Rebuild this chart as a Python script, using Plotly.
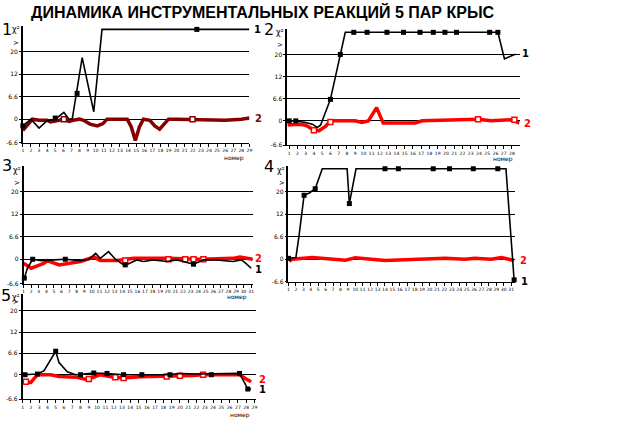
import plotly.graph_objects as go

W, H = 640, 441
TITLE = "ДИНАМИКА ИНСТРУМЕНТАЛЬНЫХ РЕАКЦИЙ 5 ПАР КРЫС"
X_TITLE = "номер"
Y_TICK_TEXT = ["-6.6", "0", "6.6", "12", "20"]

# ---------------- data (session, chi-square level in grid units) ----------------
p1_black_x = [1, 2.0, 3.0, 4.0, 5.0, 5.5, 6.07, 6.7, 7.1, 7.63, 8.33, 9.76, 10.17, 10.78, 29]
p1_black_y = [-0.3, 0.0, -0.4, -0.07, 0.0, 0.15, 0.3, 0.0, 0.0, 1.18, 2.74, 0.33, 1.77, 4.0, 4.0]
p1_red_x = [1, 1.6, 2.2, 3, 4, 4.4, 5, 5.5, 6.1, 6.7, 7.2, 8, 8.5, 9.3, 10.2, 10.9, 11.4,
            13.9, 14.4, 14.9, 15.4, 15.9, 16.7, 17.3, 17.9, 18.4, 19.0, 20, 22, 24, 26, 28, 29]
p1_red_y = [-0.5, -0.25, 0, -0.05, -0.05, -0.12, -0.1, -0.05, 0, -0.1, -0.05, 0, -0.05, -0.22,
            -0.3, -0.2, 0, 0, -0.35, -0.95, -0.35, 0, -0.05, -0.3, -0.45, -0.25, 0, 0, -0.02,
            -0.05, -0.05, 0, 0.05]
p1_bmark_x = [1, 5, 7.7, 22.5]
p1_bmark_y = [-0.3, 0.05, 1.15, 4.0]
p1_rmark_x = [6.07, 21.97]
p1_rmark_y = [0, 0]

p2_black_x = [0.8, 1.8, 3.0, 3.8, 4.4, 4.8, 6.0, 7.2, 7.8, 26.3, 27.1, 28.3, 28.5]
p2_black_y = [0, 0, -0.07, -0.15, -0.3, -0.2, 0.97, 3.0, 4.0, 4.0, 2.8, 3.0, 3.0]
p2_red_x = [0.8, 2.2, 3.0, 3.8, 4.6, 5.4, 6.0, 9.0, 9.8, 10.6, 11.6, 12.4, 16.3, 17.1, 23.9,
            25.5, 27.9, 28.9]
p2_red_y = [-0.19, -0.15, -0.2, -0.37, -0.45, -0.25, 0, 0, -0.07, 0, 0.6, -0.1, -0.1, 0, 0.07,
            0, 0.05, -0.1]
p2_bmark_x = [1.0, 1.8, 6.0, 7.2, 8.83, 10.44, 12.85, 14.86, 16.86, 18.47, 19.88, 21.28, 25.3, 26.3]
p2_bmark_y = [0, 0, 0.97, 3.0, 4, 4, 4, 4, 4, 4, 4, 4, 4, 4]
p2_rmark_x = [4.0, 6.0, 23.9, 28.3]
p2_rmark_y = [-0.42, -0.05, 0.07, 0.05]

p3_black_x = [1.1, 1.5, 2.2, 3.3, 5, 6.5, 8.5, 9.6, 10.5, 11.1, 12.2, 13.1, 14.2, 14.8, 15.9,
              16.8, 18.1, 19.9, 21.2, 23.4, 24.7, 26.4, 28.6, 29.7, 30.3, 31.0]
p3_black_y = [-0.84, -0.4, 0, -0.06, -0.03, 0, -0.06, 0, 0.26, 0.04, 0.34, 0, -0.25, -0.21,
              -0.03, -0.1, -0.03, -0.1, -0.03, -0.22, -0.03, -0.03, -0.1, -0.03, -0.18, -0.4]
p3_red_x = [1, 2, 3.7, 4.1, 5.7, 6.8, 8.5, 10.3, 11.1, 13.3, 15.5, 19.9, 24.2, 28.6, 29.5, 31.2]
p3_red_y = [-0.18, -0.4, -0.18, -0.06, -0.25, -0.18, -0.1, 0.1, -0.06, -0.06, 0.04, 0.04, 0,
            0.04, 0.1, 0]
p3_bmark_x = [1.1, 2.2, 6.5, 14.4, 23.4]
p3_bmark_y = [-0.84, 0, 0, -0.25, -0.22]
p3_rmark_x = [14.4, 20.1, 22.3, 23.4, 24.7]
p3_rmark_y = [-0.06, 0, 0, 0, 0]

p4_black_x = [1, 2, 2.4, 3.1, 3.8, 4.6, 5.55, 8.9, 9.2, 9.6, 10.1, 30.3, 31.0, 31.4]
p4_black_y = [0.04, 0.08, 1.0, 2.85, 2.95, 3.14, 4.03, 4.03, 2.48, 3.2, 4.03, 4.03, 1.0, -0.92]
p4_red_x = [1.1, 1.5, 4.2, 5.55, 8.7, 10, 11.8, 14, 15.8, 21.2, 22.1, 24.8, 26.1, 28.3, 29.7, 31.4]
p4_red_y = [-0.1, 0, 0.08, 0.04, -0.04, 0.07, 0, -0.06, -0.04, 0, 0.04, 0, 0.04, 0, 0.07, -0.06]
p4_bmark_x = [1, 3.1, 4.6, 9.2, 14.0, 15.8, 20.5, 22.7, 25.9, 29.2, 31.4]
p4_bmark_y = [0.04, 2.85, 3.14, 2.48, 4.03, 4.03, 4.03, 4.03, 4.03, 4.03, -0.92]
p4_rmark_x = []
p4_rmark_y = []

p5_black_x = [1.1, 2.8, 3.6, 5.0, 5.4, 6.4, 7.4, 9.6, 11.2, 13.2, 18.4, 20, 22.4, 27.2, 28.2, 28.6]
p5_black_y = [0, 0.03, 0.19, 1.1, 0.57, 0.14, 0, 0.08, 0.06, 0, 0, 0.06, 0.03, 0.06, -0.67, -0.67]
p5_red_x = [1, 2.0, 2.8, 4.4, 5.4, 7.6, 8.8, 10.4, 12, 13.2, 15.2, 18.4, 21.6, 22.8, 27.2, 28, 28.6]
p5_red_y = [-0.33, -0.36, 0, 0, -0.08, -0.12, -0.23, 0, -0.12, -0.15, -0.09, -0.08, -0.04, 0,
            0, -0.2, -0.33]
p5_bmark_x = [1.3, 2.8, 5.0, 8, 9.6, 11.2, 13.2, 15.4, 18.8, 23.8, 27.2, 28.2]
p5_bmark_y = [0, 0.03, 1.1, 0, 0.08, 0.06, 0, 0, 0, 0, 0.06, -0.67]
p5_rmark_x = [1.4, 9, 12.2, 13.2, 18.4, 20, 22.8]
p5_rmark_y = [-0.33, -0.2, -0.12, -0.15, -0.08, -0.05, 0]

# ---------------- layout (pixel geometry) ----------------
panels = [
    dict(n="1", bx=p1_black_x, by=p1_black_y, rx=p1_red_x, ry=p1_red_y,
         bmx=p1_bmark_x, bmy=p1_bmark_y, rmx=p1_rmark_x, rmy=p1_rmark_y,
         xd=(22, 250), xr=(1, 29), yd=(26.2, 143.7), yr=(-1.05, 4.15), nt=29, red="#860000",
         num=(6, 30), lab1=(253, 30), lab2=(254, 119), xt=(234, 159)),
    dict(n="2", bx=p2_black_x, by=p2_black_y, rx=p2_red_x, ry=p2_red_y,
         bmx=p2_bmark_x, bmy=p2_bmark_y, rmx=p2_rmark_x, rmy=p2_rmark_y,
         xd=(288, 522), xr=(0.76, 28.95), yd=(29.2, 146.2), yr=(-1.1, 4.15), nt=28, red="#ff0000",
         num=(270, 30), lab1=(522, 54), lab2=(524, 124), xt=(505, 160)),
    dict(n="3", bx=p3_black_x, by=p3_black_y, rx=p3_red_x, ry=p3_red_y,
         bmx=p3_bmark_x, bmy=p3_bmark_y, rmx=p3_rmark_x, rmy=p3_rmark_y,
         xd=(22.7, 253.3), xr=(1, 31.2), yd=(167.2, 285.9), yr=(-1.1, 4.15), nt=31, red="#ff0000",
         num=(6, 167), lab1=(254, 271), lab2=(254, 260), xt=(237, 299)),
    dict(n="4", bx=p4_black_x, by=p4_black_y, rx=p4_red_x, ry=p4_red_y,
         bmx=p4_bmark_x, bmy=p4_bmark_y, rmx=p4_rmark_x, rmy=p4_rmark_y,
         xd=(289.3, 517.1), xr=(1, 31.5), yd=(167.2, 283.6), yr=(-1.0, 4.15), nt=31, red="#ff0000",
         num=(270, 168), lab1=(521, 283), lab2=(520, 262), xt=None),
    dict(n="5", bx=p5_black_x, by=p5_black_y, rx=p5_red_x, ry=p5_red_y,
         bmx=p5_bmark_x, bmy=p5_bmark_y, rmx=p5_rmark_x, rmy=p5_rmark_y,
         xd=(21.7, 256.7), xr=(1, 29.2), yd=(295.6, 402.0), yr=(-1.15, 3.8), nt=29, red="#ff0000",
         num=(5, 298), lab1=(258, 392), lab2=(258, 382), xt=(240, 418)),
]


def px(x):
    return x / W


def py(y):
    return 1 - y / H


fig = go.Figure()
annotations = []
FONT = "DejaVu Sans"

for i, p in enumerate(panels, start=1):
    sfx = "" if i == 1 else str(i)
    xa, ya = "x" + sfx, "y" + sfx
    fig.add_trace(go.Scatter(x=p["rx"], y=p["ry"], mode="lines", xaxis=xa, yaxis=ya,
                             line=dict(color=p["red"], width=3.5), showlegend=False,
                             hoverinfo="skip"))
    if p["rmx"]:
        fig.add_trace(go.Scatter(x=p["rmx"], y=p["rmy"], mode="markers", xaxis=xa, yaxis=ya,
                                 marker=dict(symbol="square", size=5, color="white",
                                             line=dict(color=p["red"], width=1.5)),
                                 showlegend=False, hoverinfo="skip"))
    fig.add_trace(go.Scatter(x=p["bx"], y=p["by"], mode="lines", xaxis=xa, yaxis=ya,
                             line=dict(color="black", width=1.6), showlegend=False,
                             hoverinfo="skip"))
    fig.add_trace(go.Scatter(x=p["bmx"], y=p["bmy"], mode="markers", xaxis=xa, yaxis=ya,
                             marker=dict(symbol="square", size=5, color="black"),
                             showlegend=False, hoverinfo="skip", cliponaxis=False))

    y_bottom = p["yr"][0]
    fig.layout["xaxis" + sfx] = dict(
        domain=[px(p["xd"][0]), px(p["xd"][1])], range=list(p["xr"]), anchor=ya,
        tickmode="array", tickvals=list(range(1, p["nt"] + 1)),
        ticktext=[str(k) for k in range(1, p["nt"] + 1)],
        ticks="outside", ticklen=3, tickwidth=1, tickcolor="black",
        tickfont=dict(family=FONT, size=4.5, color="black"), tickangle=0,
        showline=True, linecolor="black", linewidth=1, showgrid=False, zeroline=False,
        fixedrange=True)
    fig.layout["yaxis" + sfx] = dict(
        domain=[py(p["yd"][1]), py(p["yd"][0])], range=list(p["yr"]), anchor=xa,
        tickmode="array", tickvals=[y_bottom, 0, 1, 2, 3], ticktext=Y_TICK_TEXT,
        ticks="outside", ticklen=2, tickcolor="black",
        tickfont=dict(family=FONT, size=6, color="black"),
        showline=True, linecolor="black", linewidth=1.5,
        showgrid=True, gridcolor="black", gridwidth=1, zeroline=False, fixedrange=True)

    annotations.append(dict(x=px(p["num"][0]), y=py(p["num"][1]), xref="paper", yref="paper",
                            text=p["n"], showarrow=False, xanchor="center", yanchor="middle",
                            font=dict(family=FONT, size=16, color="black")))
    annotations.append(dict(x=px(p["xd"][0] - 1), y=py(p["yd"][0] + 4), xref="paper",
                            yref="paper", text="χ²", showarrow=False, xanchor="right",
                            yanchor="middle", font=dict(family=FONT, size=8, color="black")))
    annotations.append(dict(x=px(p["xd"][0] - 2), y=3, xref="paper", yref=ya, yshift=9,
                            text="&gt;", showarrow=False, xanchor="right", yanchor="middle",
                            font=dict(family=FONT, size=7, color="black")))
    annotations.append(dict(x=px(p["lab1"][0]), y=py(p["lab1"][1]), xref="paper", yref="paper",
                            text="<b>1</b>", showarrow=False, xanchor="left", yanchor="middle",
                            font=dict(family=FONT, size=10, color="black")))
    annotations.append(dict(x=px(p["lab2"][0]), y=py(p["lab2"][1]), xref="paper", yref="paper",
                            text="<b>2</b>", showarrow=False, xanchor="left", yanchor="middle",
                            font=dict(family=FONT, size=10, color=p["red"])))
    if p["xt"]:
        annotations.append(dict(x=px(p["xt"][0]), y=py(p["xt"][1]), xref="paper", yref="paper",
                                text=X_TITLE, showarrow=False, xanchor="center",
                                yanchor="middle",
                                font=dict(family=FONT, size=6, color="black")))

annotations.append(dict(x=px(28), y=py(12), xref="paper", yref="paper", text="<b>" + TITLE + "</b>",
                        showarrow=False, xanchor="left", yanchor="middle",
                        font=dict(family="Liberation Sans", size=16, color="black")))

fig.update_layout(width=W, height=H, margin=dict(l=0, r=0, t=0, b=0),
                  paper_bgcolor="white", plot_bgcolor="white",
                  annotations=annotations, showlegend=False)

fig.write_html("out.html", config={"displayModeBar": False},
               post_script="document.body.style.margin='0';document.body.style.padding='0';")
